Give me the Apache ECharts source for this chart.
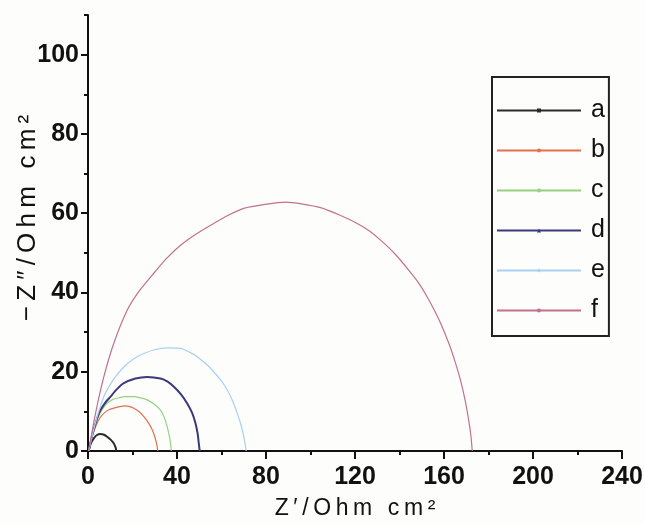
<!DOCTYPE html>
<html>
<head>
<meta charset="utf-8">
<script src="https://cdn.jsdelivr.net/npm/echarts@6/dist/echarts.min.js"></script>
<style>
html,body{margin:0;padding:0;background:#fdfdfb;}
#chart{width:645px;height:523px;}
</style>
</head>
<body>
<div id="chart"></div>
<script>
// ---- data ----
const seriesNames = ['a', 'b', 'c', 'd', 'e', 'f'];
const seriesColors = ['#2b2b2b', '#e2704c', '#98d080', '#3a3a7a', '#a8d0f0', '#c27092'];
const seriesA = [[0.3,0],[1.2,1.8],[2.6,3.2],[4.2,4.1],[5.6,4.3],[7.2,4.1],[8.6,3.6],[10.3,2.8],[11.6,1.9],[12.4,0.9],[12.7,0]];
const seriesB = [[0.3,0],[1.4,2.8],[3.4,6.1],[5.2,8.2],[7.1,9.5],[9.4,10.4],[11.6,10.8],[14.3,11.2],[16.9,11.4],[18.8,11.2],[20.6,10.8],[23.0,9.9],[25.1,8.7],[27.2,7.1],[28.9,5.3],[30.0,3.6],[30.8,1.9],[31.4,0]];
const seriesC = [[0.3,0],[1.8,3.6],[4.1,7.8],[6.2,10.3],[8.6,12.0],[10.8,12.9],[13.1,13.3],[16.8,13.7],[20.6,13.7],[23.6,13.4],[26.6,12.9],[29.8,11.8],[32.6,10.3],[34.4,8.3],[35.6,6.1],[36.5,3.9],[37.1,1.9],[37.4,0]];
const seriesD = [[0.3,0],[2.2,4.6],[4.9,9.5],[7.4,11.9],[10.1,13.7],[13.0,15.6],[16.1,17.1],[21.3,18.3],[26.6,18.7],[32.6,18.3],[35.8,17.5],[38.6,16.2],[41.8,14.3],[44.6,12.0],[46.8,9.6],[48.3,7.0],[49.3,4.3],[49.8,1.9],[50.2,0]];
const seriesE = [[0.3,0],[3.2,6.8],[7.1,13.7],[11.4,18.0],[16.1,21.2],[20.4,23.2],[25.1,24.6],[30.3,25.6],[35.6,26.0],[41.6,25.9],[45.4,25.0],[49.1,23.8],[53.0,22.0],[56.5,20.0],[59.8,17.8],[62.6,15.4],[65.1,12.5],[67.1,9.5],[68.8,6.5],[70.0,3.6],[71.1,0]];
const seriesF = [[0.3,0],[3.2,9.0],[7.1,18.7],[11.8,27.5],[17.6,35.5],[22.8,40.2],[28.9,44.4],[35.0,48.4],[41.6,51.9],[48.8,54.8],[56.5,57.4],[62.8,59.4],[70.0,61.2],[79.5,62.2],[88.8,62.8],[96.5,62.3],[104.5,61.4],[112.8,59.6],[121.0,57.4],[126.5,55.5],[131.5,53.2],[138.0,49.7],[144.2,45.6],[148.5,42.5],[152.4,38.9],[157.5,33.4],[162.2,27.1],[165.0,22.5],[167.4,17.9],[169.5,12.8],[171.1,7.8],[172.1,3.8],[172.7,0]];
const allSeries = [seriesA, seriesB, seriesC, seriesD, seriesE, seriesF];
const seriesSymbols = ['rect', 'circle', 'circle', 'triangle', 'diamond', 'circle'];
const seriesWidths = [2, 1.2, 1.2, 2, 1.2, 1.2];

const xTicks = [0, 40, 80, 120, 160, 200, 240];
const yTicks = [0, 20, 40, 60, 80, 100];
const yMinorTicks = [10, 30, 50, 70, 90, 110];
const xLabelText = 'Z\u2009\u2032\u2009/\u2009O\u2009h\u2009m\u2009 \u2009c\u2009m\u2009\u00B2';
const yLabelText = '\u2212\u2009Z\u2009\u2033\u2009/\u2009O\u2009h\u2009m\u2009 \u2009c\u2009m\u2009\u00B2';

// ---- chart ----
const chart = echarts.init(document.getElementById('chart'), null, {renderer: 'canvas'});
const labelFont = {fontFamily: 'Liberation Sans', fontWeight: 'bold', fontSize: 25, color: '#111'};
const axisBlack = {color: '#111', width: 2};

const option = {
  backgroundColor: '#fdfdfb',
  animation: false,
  grid: {left: 88, top: 15, width: 534, height: 436, containLabel: false, outerBoundsMode: 'none'},
  legend: {
    orient: 'vertical',
    left: 492, top: 77,
    itemWidth: 84, itemHeight: 5, itemGap: 15,
    padding: [21, 4, 13, 4],
    borderColor: '#222', borderWidth: 2,
    textStyle: {fontFamily: 'Liberation Sans', fontSize: 25, color: '#111', padding: [0, 0, 0, 5]},
    data: seriesNames
  },
  xAxis: {
    type: 'value', min: 0, max: 240, interval: 40,
    name: xLabelText, nameLocation: 'middle', nameGap: 46, nameMoveOverlap: false,
    nameTextStyle: {fontFamily: 'Liberation Sans', fontSize: 23, color: '#111'},
    axisLine: {show: true, lineStyle: axisBlack},
    axisTick: {show: true, inside: false, length: 8, lineStyle: axisBlack, customValues: xTicks},
    minorTick: {show: true, splitNumber: 2, length: 4, lineStyle: axisBlack},
    axisLabel: Object.assign({margin: 14, customValues: xTicks}, labelFont),
    splitLine: {show: false}
  },
  yAxis: [{
    type: 'value', min: 0, max: 110, interval: 20,
    name: yLabelText, nameLocation: 'middle', nameGap: 47, nameRotate: 90, nameMoveOverlap: false,
    nameTextStyle: {fontFamily: 'Liberation Sans', fontSize: 26, color: '#111', padding: [0, 0, 0, 30]},
    axisLine: {show: true, lineStyle: axisBlack},
    axisTick: {show: true, inside: false, length: 7, lineStyle: axisBlack, customValues: yTicks},
    axisLabel: Object.assign({margin: 9, customValues: yTicks}, labelFont),
    splitLine: {show: false}
  }, {
    type: 'value', min: 0, max: 110, interval: 10, position: 'left',
    axisLine: {show: false},
    axisTick: {show: true, inside: false, length: 4, lineStyle: axisBlack, customValues: yMinorTicks},
    axisLabel: {show: false},
    splitLine: {show: false}
  }],
  series: allSeries.map((d, i) => ({
    name: seriesNames[i],
    type: 'line',
    data: d,
    yAxisIndex: 0,
    smooth: 0.25,
    symbol: seriesSymbols[i],
    showSymbol: false,
    color: seriesColors[i],
    lineStyle: {color: seriesColors[i], width: seriesWidths[i]},
    itemStyle: {color: seriesColors[i]}
  }))
};
chart.setOption(option);
</script>
</body>
</html>
